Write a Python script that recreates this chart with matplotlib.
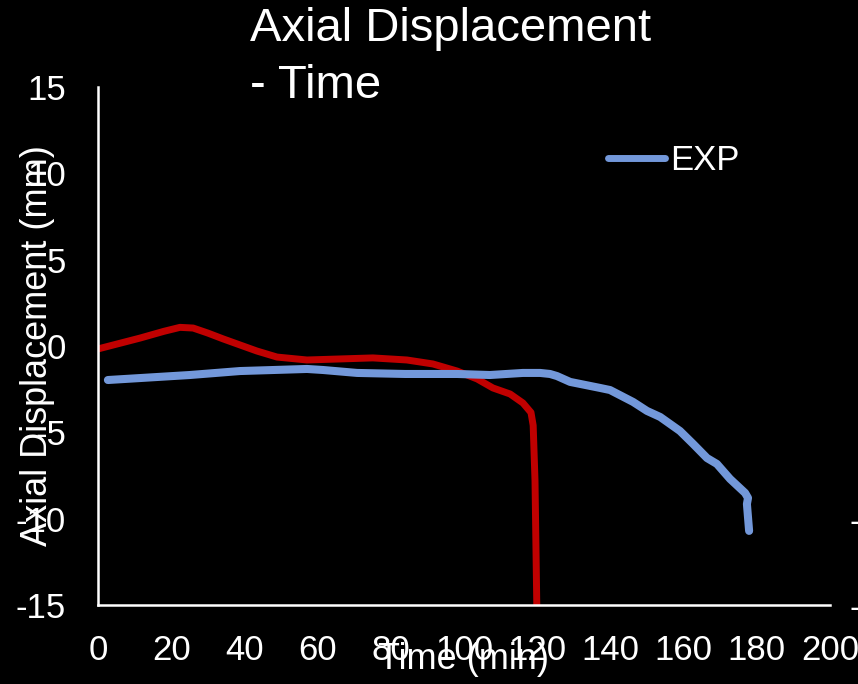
import matplotlib
matplotlib.use("Agg")
import matplotlib.pyplot as plt

plt.rcParams['font.family'] = ['Liberation Sans', 'DejaVu Sans']
plt.rcParams['axes.unicode_minus'] = False

# EXP series (blue)
exp_time = [2.7, 25.1, 38.8, 57.1, 61.5, 70.8, 83.9, 98.1, 107.1, 116.1, 120.8, 123.5,
            125.4, 129.0, 137.2, 139.9, 146.2, 150.0, 153.6, 159.0, 162.6, 166.4,
            169.1, 172.7, 176.8, 177.6, 177.3, 177.9]
exp_disp = [-1.97, -1.68, -1.45, -1.33, -1.39, -1.56, -1.62, -1.62, -1.68, -1.56, -1.56, -1.62,
            -1.74, -2.08, -2.43, -2.55, -3.24, -3.76, -4.11, -4.92, -5.67, -6.49,
            -6.83, -7.70, -8.51, -8.80, -9.15, -10.71]

# Simulation series (red)
sim_time = [0.0, 11.5, 18.0, 22.4, 26.0, 30.0, 34.2, 43.4, 48.9, 57.1, 66.1, 75.1, 84.4, 91.5,
            98.1, 103.6, 107.9, 112.6, 116.1, 118.3, 118.9, 119.4, 119.9]
sim_disp = [-0.17, 0.46, 0.85, 1.08, 1.04, 0.75, 0.41, -0.29, -0.64, -0.81, -0.75, -0.69, -0.81, -1.04,
            -1.45, -1.91, -2.43, -2.78, -3.30, -3.85, -4.6, -7.8, -15.2]

x_ticks = [0, 20, 40, 60, 80, 100, 120, 140, 160, 180, 200]
y_ticks = [-15, -10, -5, 0, 5, 10, 15]
y2_ticks = [-15, -10]

fig = plt.figure(figsize=(8.58, 6.84), dpi=100, facecolor='black')
ax = fig.add_axes([98/858, 79/684, (830-98)/858, (605-87)/684], facecolor='black')

ax.plot(exp_time, exp_disp, color='#7398DA', lw=5.8, solid_capstyle='round',
        solid_joinstyle='round', label='EXP', zorder=3)
ax.plot(sim_time, sim_disp, color='#C00000', lw=5.0, solid_capstyle='butt',
        solid_joinstyle='round', zorder=2)

ax.set_xlim(0, 200)
ax.set_ylim(-15, 15)
ax.set_xticks(x_ticks)
ax.set_yticks(y_ticks)
ax.tick_params(axis='both', length=0, colors='white', labelsize=25)
ax.tick_params(axis='x', pad=21)
ax.tick_params(axis='y', pad=23)
for s in ['top', 'right']:
    ax.spines[s].set_visible(False)
for s in ['left', 'bottom']:
    ax.spines[s].set_color('white')
    ax.spines[s].set_linewidth(1.8)

ax.set_xlabel('Time (min)', color='white', fontsize=26, labelpad=-18)
ax.set_ylabel('Axial Displacement (mm)', color='white', fontsize=26, labelpad=-28)

# secondary axis, labels mostly outside the figure
ax2 = ax.twinx()
ax2.set_ylim(-15, 15)
ax2.set_yticks(y2_ticks)
ax2.tick_params(axis='y', length=0, colors='white', labelsize=25, pad=14)
for s in ax2.spines.values():
    s.set_visible(False)

leg = ax.legend(loc='center left', bbox_to_anchor=(577/858, 1 - 161/684),
                bbox_transform=fig.transFigure, frameon=False, fontsize=25,
                handlelength=1.64, handletextpad=0.15, labelcolor='white')
leg.get_lines()[0].set_linewidth(5.0)

fig.text(250/858, 1 - 7/684, 'Axial Displacement\n- Time', color='white',
         fontsize=34, ha='left', va='top', linespacing=1.38)

fig.savefig('out.png', dpi=100, facecolor='black')
